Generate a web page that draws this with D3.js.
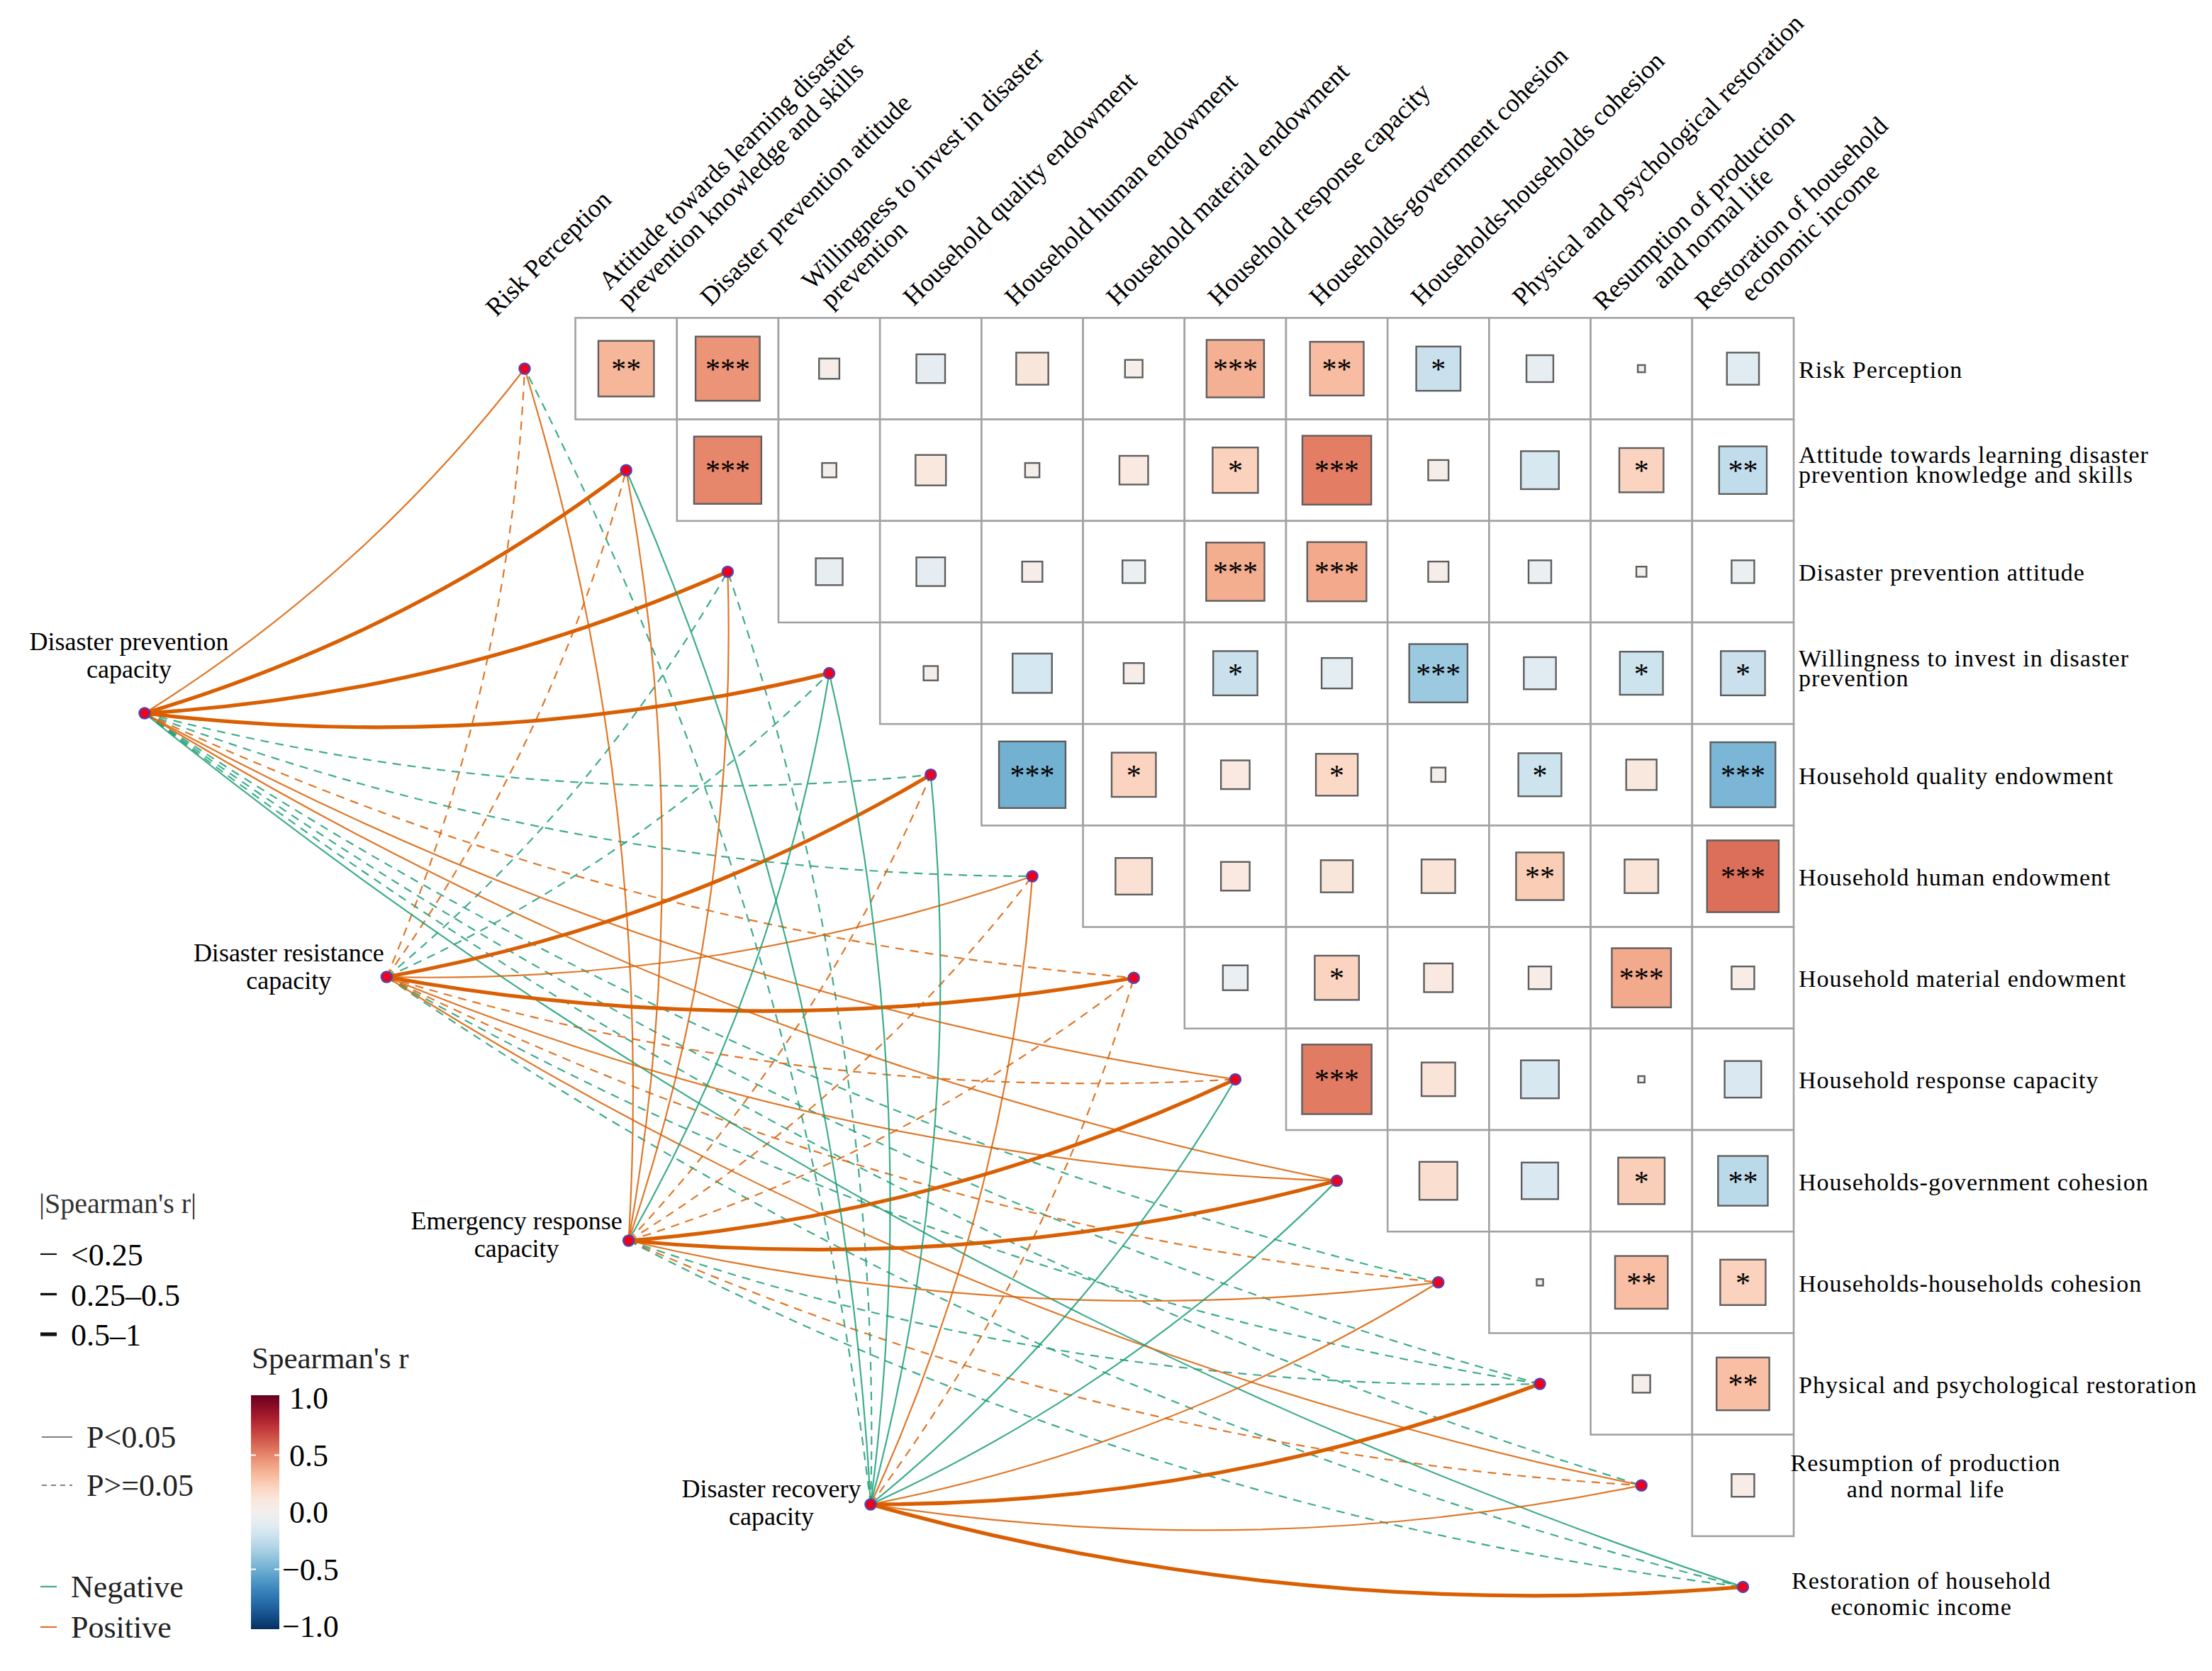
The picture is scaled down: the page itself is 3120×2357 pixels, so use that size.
<!DOCTYPE html>
<html>
<head>
<meta charset="utf-8">
<script src="https://cdn.jsdelivr.net/npm/d3@7"></script>
<style>
  body { margin: 0; background: #fff; }
  svg { display: block; }
  text { font-family: "Liberation Serif", "Times New Roman", serif; }
</style>
</head>
<body>
<svg id="chart" width="3120" height="2357"></svg>
<script>
// matrix variables (columns on top, rows on the right)
var variables = [
  "Risk Perception",
  "Attitude towards learning disaster\nprevention knowledge and skills",
  "Disaster prevention attitude",
  "Willingness to invest in disaster\nprevention",
  "Household quality endowment",
  "Household human endowment",
  "Household material endowment",
  "Household response capacity",
  "Households-government cohesion",
  "Households-households cohesion",
  "Physical and psychological restoration",
  "Resumption of production\nand normal life",
  "Restoration of household\neconomic income"
];

// upper triangle, row i holds columns i+1 .. 12
var corrR = [
  [0.30, 0.40, 0.04, -0.08, 0.10, 0.03, 0.32, 0.28, -0.19, -0.07, 0.005, -0.10],
  [0.44, 0.02, 0.09, 0.02, 0.08, 0.20, 0.46, 0.04, -0.14, 0.19, -0.22],
  [-0.07, -0.08, 0.04, -0.05, 0.33, 0.34, 0.04, -0.05, 0.01, -0.05],
  [0.02, -0.15, 0.04, -0.19, -0.09, -0.33, -0.10, -0.18, -0.19],
  [-0.43, 0.19, 0.08, 0.17, 0.02, -0.18, 0.09, -0.41],
  [0.13, 0.08, 0.10, 0.11, 0.22, 0.11, 0.50],
  [-0.06, 0.19, 0.08, 0.05, 0.34, 0.05],
  [0.47, 0.11, -0.14, 0.004, -0.13],
  [0.14, -0.13, 0.21, -0.24],
  [0.004, 0.27, 0.20],
  [0.03, 0.27],
  [0.05]
];
var corrStars = [
  ["**", "***", "", "", "", "", "***", "**", "*", "", "", ""],
  ["***", "", "", "", "", "*", "***", "", "", "*", "**"],
  ["", "", "", "", "***", "***", "", "", "", ""],
  ["", "", "", "*", "", "***", "", "*", "*"],
  ["***", "*", "", "*", "", "*", "", "***"],
  ["", "", "", "", "**", "", "***"],
  ["", "*", "", "", "***", ""],
  ["***", "", "", "", ""],
  ["", "", "*", "**"],
  ["", "**", "*"],
  ["", "**"],
  [""]
];

// link sources (left) and their r / p against each of the 13 variables
var sources = [
  "Disaster prevention\ncapacity",
  "Disaster resistance\ncapacity",
  "Emergency response\ncapacity",
  "Disaster recovery\ncapacity"
];
var linkR = [
  [0.15, 0.55, 0.55, 0.55, -0.10, -0.10, 0.10, 0.15, 0.15, -0.10, -0.10, -0.10, -0.15],
  [0.10, 0.10, -0.10, -0.10, 0.55, 0.15, 0.55, 0.10, 0.15, 0.10, -0.10, 0.15, -0.10],
  [0.15, 0.15, 0.15, -0.15, 0.10, 0.10, 0.10, 0.55, 0.55, 0.15, -0.10, 0.10, -0.10],
  [-0.10, -0.15, -0.10, -0.15, -0.15, 0.15, 0.10, -0.15, -0.15, 0.15, 0.55, 0.15, 0.55]
];
var linkP = [
  [0.01, 0.001, 0.001, 0.001, 0.20, 0.20, 0.20, 0.01, 0.01, 0.20, 0.20, 0.20, 0.01],
  [0.20, 0.20, 0.20, 0.20, 0.001, 0.01, 0.001, 0.20, 0.01, 0.20, 0.20, 0.01, 0.20],
  [0.01, 0.01, 0.01, 0.01, 0.20, 0.20, 0.20, 0.001, 0.001, 0.01, 0.20, 0.20, 0.20],
  [0.20, 0.01, 0.20, 0.01, 0.01, 0.01, 0.20, 0.01, 0.01, 0.01, 0.001, 0.01, 0.001]
];

var widthLabels = ["<0.25", "0.25\u20130.5", "0.5\u20131"];
var widthValues = [0.1, 0.35, 0.7];
var pLabels = ["P<0.05", "P>=0.05"];
var signLabels = ["Negative", "Positive"];
var colorTicks = [1.0, 0.5, 0.0, -0.5, -1.0];

var svg = d3.select("#chart");
svg.append("rect").attr("width", 3120).attr("height", 2357).attr("fill", "#fff");

var n = variables.length,
    cell = 143.2;
var x = d3.scaleLinear().domain([0, n - 1]).range([740, 740 + (n - 1) * cell]);
var y = d3.scaleLinear().domain([0, n - 1]).range([520, 520 + (n - 1) * cell]);
var side = d3.scaleSqrt().domain([0, 1]).range([0, cell]);
var fill = d3.scaleDiverging(d3.interpolateRdBu).domain([0.9, 0, -0.9]).clamp(true);
var barFill = d3.scaleDiverging(d3.interpolateRdBu).domain([1, 0, -1]);
var sx = d3.scaleLinear().domain([0, 3]).range([204, 1228]);
var sy = d3.scaleLinear().domain([0, 3]).range([1006, 2122]);
var lw = d3.scaleThreshold().domain([0.25, 0.5]).range([2.2, 3.4, 5.2]);
var posCol = "#D95F02", negCol = "#1B9E77";

// ---- links
var links = [];
sources.forEach(function(s, k) {
  variables.forEach(function(v, j) {
    links.push({k: k, j: j, r: linkR[k][j], p: linkP[k][j]});
  });
});

function curve(d) {
  var x0 = sx(d.k), y0 = sy(d.k), x1 = x(d.j), y1 = y(d.j);
  var dx = x1 - x0, dy = y1 - y0, len = Math.sqrt(dx * dx + dy * dy);
  var h = 0.09 * len;
  var cx = (x0 + x1) / 2 - dy / len * h,
      cy = (y0 + y1) / 2 + dx / len * h;
  return "M" + x0 + "," + y0 + "Q" + cx + "," + cy + " " + x1 + "," + y1;
}

svg.append("g").selectAll("path")
  .data(links.filter(function(d) { return d.p >= 0.05; }).concat(links.filter(function(d) { return d.p < 0.05; })))
  .enter().append("path")
    .attr("d", curve)
    .attr("fill", "none")
    .attr("stroke", function(d) { return d.r > 0 ? posCol : negCol; })
    .attr("stroke-opacity", function(d) { return Math.abs(d.r) >= 0.5 ? 1 : 0.85; })
    .attr("stroke-width", function(d) { return lw(Math.abs(d.r)); })
    .attr("stroke-dasharray", function(d) { return d.p < 0.05 ? null : "12,9"; });

// ---- matrix
var cells = [];
corrR.forEach(function(row, i) {
  row.forEach(function(r, k) {
    cells.push({i: i, j: i + 1 + k, r: r, star: corrStars[i][k]});
  });
});

var mg = svg.append("g");
mg.selectAll("rect.grid")
  .data(cells).enter().append("rect")
    .attr("class", "grid")
    .attr("x", function(d) { return x(d.j) - cell / 2; })
    .attr("y", function(d) { return y(d.i) - cell / 2; })
    .attr("width", cell).attr("height", cell)
    .attr("fill", "#fff")
    .attr("stroke", "#a2a2a2")
    .attr("stroke-width", 2.6);

mg.selectAll("rect.sq")
  .data(cells).enter().append("rect")
    .attr("class", "sq")
    .attr("x", function(d) { return x(d.j) - side(Math.abs(d.r)) / 2; })
    .attr("y", function(d) { return y(d.i) - side(Math.abs(d.r)) / 2; })
    .attr("width", function(d) { return side(Math.abs(d.r)); })
    .attr("height", function(d) { return side(Math.abs(d.r)); })
    .attr("fill", function(d) { return fill(d.r); })
    .attr("stroke", "#5e5e5e")
    .attr("stroke-width", 2.4);

mg.selectAll("text.star")
  .data(cells.filter(function(d) { return d.star; })).enter().append("text")
    .attr("class", "star")
    .attr("x", function(d) { return x(d.j); })
    .attr("y", function(d) { return y(d.i) + 15; })
    .attr("text-anchor", "middle")
    .attr("font-size", 42)
    .text(function(d) { return d.star; });

// ---- nodes
var nodePts = variables.map(function(v, j) { return [x(j), y(j)]; })
  .concat(sources.map(function(s, k) { return [sx(k), sy(k)]; }));
svg.append("g").selectAll("circle")
  .data(nodePts).enter().append("circle")
    .attr("cx", function(d) { return d[0]; })
    .attr("cy", function(d) { return d[1]; })
    .attr("r", 7.5)
    .attr("fill", "#f0001c")
    .attr("stroke", "#5a3fa8")
    .attr("stroke-width", 2.5);

// ---- source labels
var srcLab = [[-22, -89], [-138, -22], [-158, -16], [-140, -10]];
sources.forEach(function(s, k) {
  var t = svg.append("text")
    .attr("text-anchor", "middle")
    .attr("font-size", 36)
    .attr("x", sx(k) + srcLab[k][0])
    .attr("y", sy(k) + srcLab[k][1]);
  s.split("\n").forEach(function(line, li) {
    t.append("tspan").attr("x", sx(k) + srcLab[k][0]).attr("dy", li ? 39 : 0).text(line);
  });
});

// ---- top (rotated) labels
variables.forEach(function(v, j) {
  var lines = v.split("\n");
  var ox = j === 0 ? -40 : -24, oy = j === 0 ? 448 : 433;
  var g = svg.append("g")
    .attr("transform", "translate(" + (x(j) + ox) + "," + oy + ") rotate(-45)");
  var centred = (j >= 11);
  var ts = lines.map(function(line, li) {
    return g.append("text")
      .attr("font-size", 36.5)
      .attr("x", lines.length === 1 ? 0 : (centred ? -25 : 16))
      .attr("y", lines.length === 1 ? 0 : (li === 0 ? -16 : 21))
      .text(line);
  });
  if (centred && ts.length === 2) {
    var w0 = ts[0].node().getComputedTextLength(),
        w1 = ts[1].node().getComputedTextLength();
    ts[1].attr("x", -25 + (w0 - w1) / 2);
  }
});

// ---- right labels
variables.forEach(function(v, j) {
  var lines = v.split("\n");
  var centred = (j >= 11);
  var base = lines.length === 1 ? [13] : (j === 11 ? [-20, 17] : (j === 12 ? [3, 40] : [-10, 18]));
  lines.forEach(function(line, li) {
    svg.append("text")
      .attr("font-size", 34)
      .attr("letter-spacing", 1)
      .attr("text-anchor", centred ? "middle" : "start")
      .attr("x", centred ? (j === 11 ? 2716 : 2710) : 2537)
      .attr("y", y(j) + base[li])
      .text(line);
  });
});

// ---- legends
var lg = svg.append("g");
lg.append("text").attr("x", 55).attr("y", 1711).attr("font-size", 40).attr("fill", "#333")
  .text("|Spearman's r|");
widthLabels.forEach(function(t, i) {
  var yy = 1769 + i * 56.5;
  lg.append("line").attr("x1", 57).attr("x2", 80).attr("y1", yy).attr("y2", yy)
    .attr("stroke", "#111").attr("stroke-width", lw(widthValues[i]));
  lg.append("text").attr("x", 100).attr("y", yy + 16).attr("font-size", 44).text(t);
});
pLabels.forEach(function(t, i) {
  var yy = 2027 + i * 68;
  lg.append("line").attr("x1", 59).attr("x2", 102).attr("y1", yy).attr("y2", yy)
    .attr("stroke", "#808080").attr("stroke-width", 2.2)
    .attr("stroke-dasharray", i ? "7,6" : null);
  lg.append("text").attr("x", 122).attr("y", yy + 15).attr("font-size", 44).attr("fill", "#222").text(t);
});
signLabels.forEach(function(t, i) {
  var yy = 2238 + i * 57;
  lg.append("line").attr("x1", 57).attr("x2", 80).attr("y1", yy).attr("y2", yy)
    .attr("stroke", i ? posCol : negCol).attr("stroke-width", 2.2).attr("stroke-opacity", 0.85);
  lg.append("text").attr("x", 100).attr("y", yy + 15).attr("font-size", 44).attr("fill", "#222").text(t);
});

// colour bar
var cy = d3.scaleLinear().domain([1, -1]).range([1972, 2294]);
var grad = svg.append("defs").append("linearGradient")
  .attr("id", "rbar").attr("x1", 0).attr("x2", 0).attr("y1", 0).attr("y2", 1);
d3.range(0, 1.0001, 0.05).forEach(function(t) {
  grad.append("stop").attr("offset", t).attr("stop-color", barFill(1 - 2 * t));
});
lg.append("text").attr("x", 355).attr("y", 1930).attr("font-size", 43).attr("fill", "#222").text("Spearman's r");
lg.append("rect").attr("x", 354).attr("y", 1968).attr("width", 40).attr("height", 330)
  .attr("fill", "url(#rbar)");
colorTicks.forEach(function(v) {
  if (Math.abs(v) === 0.5) {
    lg.append("line").attr("x1", 354).attr("x2", 361).attr("y1", cy(v)).attr("y2", cy(v))
      .attr("stroke", "#fff").attr("stroke-width", 2);
    lg.append("line").attr("x1", 387).attr("x2", 394).attr("y1", cy(v)).attr("y2", cy(v))
      .attr("stroke", "#fff").attr("stroke-width", 2);
  }
  lg.append("text").attr("x", v < 0 ? 398 : 408).attr("y", cy(v)).attr("dy", "0.35em")
    .attr("font-size", 44).text(d3.format(".1f")(v).replace("-", "\u2212"));
});
</script>
</body>
</html>
